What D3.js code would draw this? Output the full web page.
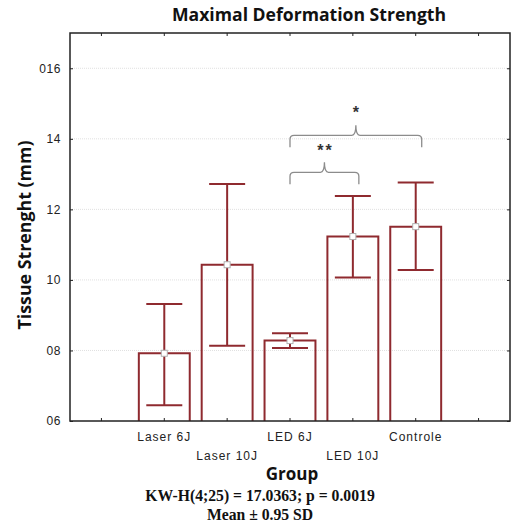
<!DOCTYPE html>
<html>
<head>
<meta charset="utf-8">
<script src="https://cdn.jsdelivr.net/npm/d3@7"></script>
<style>
  body { margin: 0; background: #fff; }
</style>
</head>
<body>
<div id="chart"></div>
<script>
// data
var groups = ['Laser 6J', 'Laser 10J', 'LED 6J', 'LED 10J', 'Controle'];
var means  = [7.92, 10.43, 8.28, 11.23, 11.51];
var lows   = [6.45, 8.13, 8.07, 10.07, 10.28];
var highs  = [9.32, 12.72, 8.49, 12.38, 12.76];
var yTicks = [6, 8, 10, 12, 14, 16];
var yTickLabels = ['06', '08', '10', '12', '14', '016'];
// significance brackets: from group, to group, level, label
var brackets = [
  {from: 'LED 6J', to: 'Controle', level: 14.1, label: '*'},
  {from: 'LED 6J', to: 'LED 10J', level: 13.05, label: '**'}
];

var W = 515, H = 525;
// plot frame (window.top is reserved, so p* names)
var pLeft = 70, pRight = 510, pTop = 33, pBottom = 421;
var red = '#8f2a2f';

var svg = d3.select('#chart').append('svg')
  .attr('width', W)
  .attr('height', H);

// 7 slots: empty, 5 groups, empty
var slots = ['_a'].concat(groups).concat(['_b']);
var x = d3.scaleBand().domain(slots).range([pLeft, pRight]).padding(0);
var y = d3.scaleLinear().domain([6, 17]).range([pBottom, pTop]);
var cx = function(g) { return x(g) + x.bandwidth() / 2; };

// grid lines
svg.append('g').selectAll('line')
  .data(yTicks.filter(function(d) { return d > 6; }))
  .enter().append('line')
  .attr('x1', pLeft).attr('x2', pRight)
  .attr('y1', function(d) { return y(d); })
  .attr('y2', function(d) { return y(d); })
  .attr('stroke', '#e0e0e0')
  .attr('stroke-width', 1)
  .attr('stroke-dasharray', '1,1');

// bars
var barW = x.bandwidth() * 0.81;
svg.append('g').selectAll('path')
  .data(groups)
  .enter().append('path')
  .attr('d', function(g, i) {
    var x0 = cx(g) - barW / 2, x1 = cx(g) + barW / 2;
    return 'M' + x0 + ',' + y(6) + 'V' + y(means[i]) + 'H' + x1 + 'V' + y(6);
  })
  .attr('fill', 'none')
  .attr('stroke', red)
  .attr('stroke-width', 2);

// error bars
var capW = 36;
var err = svg.append('g').selectAll('g')
  .data(groups)
  .enter().append('g');
err.append('line')
  .attr('x1', function(g) { return cx(g); })
  .attr('x2', function(g) { return cx(g); })
  .attr('y1', function(g, i) { return y(lows[i]); })
  .attr('y2', function(g, i) { return y(highs[i]); })
  .attr('stroke', red).attr('stroke-width', 2);
err.append('line')
  .attr('x1', function(g) { return cx(g) - capW / 2; })
  .attr('x2', function(g) { return cx(g) + capW / 2; })
  .attr('y1', function(g, i) { return y(highs[i]); })
  .attr('y2', function(g, i) { return y(highs[i]); })
  .attr('stroke', red).attr('stroke-width', 2);
err.append('line')
  .attr('x1', function(g) { return cx(g) - capW / 2; })
  .attr('x2', function(g) { return cx(g) + capW / 2; })
  .attr('y1', function(g, i) { return y(lows[i]); })
  .attr('y2', function(g, i) { return y(lows[i]); })
  .attr('stroke', red).attr('stroke-width', 2);
err.append('rect')
  .attr('x', function(g) { return cx(g) - 3; })
  .attr('y', function(g, i) { return y(means[i]) - 3; })
  .attr('width', 6).attr('height', 6)
  .attr('fill', '#fff')
  .attr('stroke', '#b0b0b0')
  .attr('stroke-width', 1);

// frame
svg.append('rect')
  .attr('x', pLeft).attr('y', pTop)
  .attr('width', pRight - pLeft).attr('height', pBottom - pTop)
  .attr('fill', 'none')
  .attr('stroke', '#222')
  .attr('stroke-width', 1.5);

// inward ticks on all sides
var tl = 3;
function cleanAxis(g) {
  g.select('.domain').remove();
  g.selectAll('line').attr('stroke', '#222');
}
svg.append('g').attr('transform', 'translate(0,' + pTop + ')')
  .call(d3.axisBottom(x).tickSize(tl).tickFormat('')).call(cleanAxis);
svg.append('g').attr('transform', 'translate(0,' + pBottom + ')')
  .call(d3.axisTop(x).tickSize(tl).tickFormat('')).call(cleanAxis);
svg.append('g').attr('transform', 'translate(' + pLeft + ',0)')
  .call(d3.axisRight(y).tickValues(yTicks).tickSize(tl).tickFormat('')).call(cleanAxis);
svg.append('g').attr('transform', 'translate(' + pRight + ',0)')
  .call(d3.axisLeft(y).tickValues(yTicks).tickSize(tl).tickFormat('')).call(cleanAxis);

// y tick labels
svg.append('g').selectAll('text')
  .data(yTicks)
  .enter().append('text')
  .attr('x', pLeft - 9)
  .attr('y', function(d) { return y(d); })
  .attr('dy', '0.36em')
  .attr('text-anchor', 'end')
  .style('font-family', 'Liberation Sans, Arial, sans-serif')
  .style('font-size', '12px')
  .style('letter-spacing', '0.6px')
  .attr('fill', '#222')
  .text(function(d, i) { return yTickLabels[i]; });

// x tick labels, staggered
svg.append('g').selectAll('text')
  .data(groups)
  .enter().append('text')
  .attr('x', function(g) { return cx(g); })
  .attr('y', function(g, i) { return i % 2 === 0 ? 441 : 460; })
  .attr('text-anchor', 'middle')
  .style('font-family', 'Liberation Sans, Arial, sans-serif')
  .style('font-size', '12px')
  .style('letter-spacing', '1px')
  .attr('fill', '#222')
  .text(function(g) { return g; });

// brackets
var gray = '#8c8c8c';
brackets.forEach(function(b) {
  var x0 = cx(b.from), x1 = cx(b.to) + 6;
  var yl = y(b.level), xm = (x0 + x1) / 2;
  var r = 4, end = 12, peak = 10;
  var d = 'M' + x0 + ',' + (yl + end) +
    'V' + (yl + r) + 'Q' + x0 + ',' + yl + ' ' + (x0 + r) + ',' + yl +
    'H' + (xm - r) + 'Q' + xm + ',' + yl + ' ' + xm + ',' + (yl - peak) +
    'Q' + xm + ',' + yl + ' ' + (xm + r) + ',' + yl +
    'H' + (x1 - r) + 'Q' + x1 + ',' + yl + ' ' + x1 + ',' + (yl + r) +
    'V' + (yl + end);
  svg.append('path')
    .attr('d', d)
    .attr('fill', 'none')
    .attr('stroke', gray)
    .attr('stroke-width', 1.3);
  svg.append('text')
    .attr('x', xm + 1)
    .attr('y', yl - peak - 18)
    .attr('text-anchor', 'middle')
    .attr('dy', '0.7em')
    .style('font-family', 'Liberation Sans, Arial, sans-serif')
    .style('font-size', '16px')
    .style('font-weight', 'bold')
    .style('letter-spacing', '2px')
    .attr('fill', '#333')
    .text(b.label);
});

// title
svg.append('text')
  .attr('x', 309).attr('y', 21)
  .attr('text-anchor', 'middle')
  .style('font-family', 'Open Sans, sans-serif')
  .style('font-size', '17.6px')
  .style('font-weight', 'bold')
  .attr('fill', '#111')
  .text('Maximal Deformation Strength');

// y label
svg.append('text')
  .attr('transform', 'translate(31,235) rotate(-90)')
  .attr('text-anchor', 'middle')
  .style('font-family', 'Open Sans, sans-serif')
  .style('font-size', '17.8px')
  .style('font-weight', 'bold')
  .attr('fill', '#111')
  .text('Tissue Strenght (mm)');

// x label
svg.append('text')
  .attr('x', 292).attr('y', 480)
  .attr('text-anchor', 'middle')
  .style('font-family', 'Open Sans, sans-serif')
  .style('font-size', '17px')
  .style('font-weight', 'bold')
  .attr('fill', '#111')
  .text('Group');

// stats lines
svg.append('text')
  .attr('x', 260).attr('y', 501)
  .attr('text-anchor', 'middle')
  .style('font-family', 'Liberation Serif, Times New Roman, serif')
  .style('font-size', '15.7px')
  .style('font-weight', 'bold')
  .attr('fill', '#111')
  .text('KW-H(4;25) = 17.0363; p = 0.0019');
svg.append('text')
  .attr('x', 260).attr('y', 520)
  .attr('text-anchor', 'middle')
  .style('font-family', 'Liberation Serif, Times New Roman, serif')
  .style('font-size', '15.7px')
  .style('font-weight', 'bold')
  .attr('fill', '#111')
  .text('Mean \u00b1 0.95 SD');
</script>
</body>
</html>
